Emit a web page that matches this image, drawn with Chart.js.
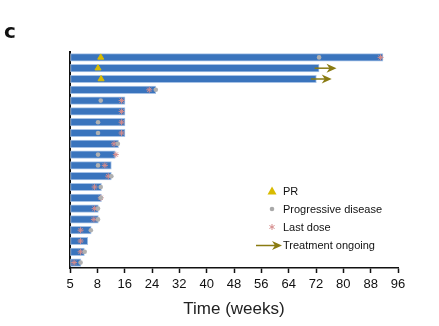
<!DOCTYPE html>
<html>
<head>
<meta charset="utf-8">
<script src="https://cdn.jsdelivr.net/npm/chart.js@4/dist/chart.umd.min.js"></script>
<style>
  html, body { margin: 0; padding: 0; background: #fff; }
  #wrap { width: 439px; height: 326px; position: relative; }
</style>
</head>
<body>
<div id="wrap"><canvas id="swimmer"></canvas></div>
<script>
'use strict';
// one row per patient, top to bottom
var rows = ['1','2','3','4','5','6','7','8','9','10','11','12','13','14','15','16','17','18','19','20'];
var weeksOnTreatment = [91.6, 72.9, 72.1, 25.1, 16.1, 16.1, 16.1, 16.1, 14.2, 13.2, 12.1, 12.1, 9.2, 9.2, 8.3, 8.3, 6.2, 5.2, 4.2, 3.2];

var prRows = ['1', '2', '3'];
var prWeeks = [9.0, 8.2, 9.1];

var pdRows = ['1','4','5','7','8','9','10','11','12','13','14','15','16','17','19','20'];
var pdWeeks = [72.9, 25.1, 9.0, 8.2, 8.2, 14.0, 8.2, 8.2, 12.1, 9.0, 9.0, 8.2, 8.2, 6.1, 4.3, 3.1];

var lastDoseRows = ['1','4','5','6','7','8','9','10','11','12','13','14','15','16','17','18','19','20'];
var lastDoseWeeks = [90.9, 23.2, 15.1, 15.1, 15.1, 15.1, 12.9, 13.4, 10.2, 11.2, 7.2, 9.0, 7.2, 7.0, 3.1, 3.1, 3.1, 1.2];

var ongoingRows = ['2', '3'];
var ongoingFrom = [71.6, 70.5];
var ongoingTo = [78.0, 76.6];

var tickWeeks = [0, 8, 16, 24, 32, 40, 48, 56, 64, 72, 80, 88, 96];
var tickLabels = ['5', '8', '16', '24', '32', '40', '48', '56', '64', '72', '80', '88', '96'];

var legendLabels = ['PR', 'Progressive disease', 'Last dose', 'Treatment ongoing'];

var arrowColor = '#8a7b12';

function pairs(ys, xs) {
  return xs.map(function(x, i) { return {x: x, y: ys[i]}; });
}

function drawArrow(ctx, x1, x2, y) {
  ctx.save();
  ctx.strokeStyle = arrowColor;
  ctx.fillStyle = arrowColor;
  ctx.lineWidth = 1.5;
  ctx.beginPath();
  ctx.moveTo(x1, y);
  ctx.lineTo(x2 - 6, y);
  ctx.stroke();
  ctx.beginPath();
  ctx.moveTo(x2, y);
  ctx.lineTo(x2 - 10, y - 4.5);
  ctx.lineTo(x2 - 7, y);
  ctx.lineTo(x2 - 10, y + 4.5);
  ctx.closePath();
  ctx.fill();
  ctx.restore();
}

// arrows for ongoing treatment, panel letter and the legend box
var extras = {
  id: 'extras',
  afterDatasetsDraw: function(chart) {
    var ctx = chart.ctx;
    var xs = chart.scales.x, ys = chart.scales.y;
    ongoingRows.forEach(function(r, i) {
      var y = ys.getPixelForValue(rows.indexOf(r));
      drawArrow(ctx, xs.getPixelForValue(ongoingFrom[i]), xs.getPixelForValue(ongoingTo[i]), y);
    });

    ctx.save();
    ctx.fillStyle = '#111';
    ctx.font = 'bold 20px "DejaVu Sans", Arial, sans-serif';
    ctx.textBaseline = 'alphabetic';
    ctx.fillText('c', 4, 37.5);

    var lx = 272, ly = 191, step = 18;
    ctx.font = '11px "Liberation Sans", Arial, sans-serif';
    ctx.textBaseline = 'middle';
    // PR triangle
    ctx.fillStyle = '#d9bb00';
    ctx.beginPath();
    ctx.moveTo(lx, ly - 4.5);
    ctx.lineTo(lx + 4.5, ly + 3.5);
    ctx.lineTo(lx - 4.5, ly + 3.5);
    ctx.closePath();
    ctx.fill();
    // progressive disease dot
    ctx.fillStyle = '#a9a9a9';
    ctx.beginPath();
    ctx.arc(lx, ly + step, 2.3, 0, Math.PI * 2);
    ctx.fill();
    // last dose asterisk
    ctx.strokeStyle = '#d58c8c';
    ctx.lineWidth = 1;
    for (var a = 0; a < 3; a++) {
      var ang = a * Math.PI / 3 + Math.PI / 2;
      ctx.beginPath();
      ctx.moveTo(lx - Math.cos(ang) * 3, ly + 2 * step - Math.sin(ang) * 3);
      ctx.lineTo(lx + Math.cos(ang) * 3, ly + 2 * step + Math.sin(ang) * 3);
      ctx.stroke();
    }
    drawArrow(ctx, 256, 282, ly + 3 * step + 0.5);

    ctx.fillStyle = '#111';
    legendLabels.forEach(function(t, i) {
      ctx.fillText(t, 283, ly + i * step + 0.5);
    });
    ctx.restore();
  }
};

var config = {
  type: 'bar',
  data: {
    labels: rows,
    datasets: [
      {
        type: 'line',
        label: 'PR',
        data: pairs(prRows, prWeeks),
        showLine: false,
        pointStyle: 'triangle',
        pointRadius: 3.5,
        pointBackgroundColor: '#d9bb00',
        pointBorderColor: '#d9bb00',
        order: 1
      },
      {
        type: 'line',
        label: 'Last dose',
        data: pairs(lastDoseRows, lastDoseWeeks),
        showLine: false,
        pointStyle: 'star',
        pointRadius: 3,
        pointBorderWidth: 1,
        pointBackgroundColor: '#d58c8c',
        pointBorderColor: '#d58c8c',
        order: 3
      },
      {
        type: 'line',
        label: 'Progressive disease',
        data: pairs(pdRows, pdWeeks),
        showLine: false,
        pointStyle: 'circle',
        pointRadius: 2.3,
        pointBorderWidth: 0,
        pointBackgroundColor: '#b0b0b0',
        order: 2
      },
      {
        label: 'Time on treatment',
        data: weeksOnTreatment,
        backgroundColor: '#3a74bd',
        borderColor: '#a7c2e6',
        borderWidth: 1,
        borderSkipped: false,
        barThickness: 7.5,
        order: 10
      }
    ]
  },
  options: {
    indexAxis: 'y',
    responsive: true,
    maintainAspectRatio: false,
    animation: false,
    layout: { padding: { left: 62, top: 52, right: 41, bottom: 6 } },
    plugins: {
      legend: { display: false },
      tooltip: { enabled: false }
    },
    scales: {
      x: {
        type: 'linear',
        min: 0,
        max: 96,
        afterBuildTicks: function(axis) {
          axis.ticks = tickWeeks.map(function(v) { return {value: v}; });
        },
        ticks: {
          color: '#111',
          padding: 4,
          autoSkip: false,
          maxRotation: 0,
          font: { family: '"Liberation Sans", Arial, sans-serif', size: 13 },
          callback: function(v) { return tickLabels[tickWeeks.indexOf(v)]; }
        },
        grid: { display: true, drawOnChartArea: false, tickLength: 5, tickColor: '#111', tickWidth: 1.5 },
        border: { color: '#111', width: 1.5 },
        title: {
          display: true,
          text: 'Time (weeks)',
          color: '#222',
          padding: { top: 3, bottom: 0 },
          font: { family: '"Liberation Sans", Arial, sans-serif', size: 17 }
        }
      },
      y: {
        type: 'category',
        ticks: { display: false },
        grid: { display: false },
        border: { color: '#111', width: 2 }
      }
    }
  },
  plugins: [extras]
};

window.chart = new Chart(document.getElementById('swimmer'), config);
</script>
</body>
</html>
